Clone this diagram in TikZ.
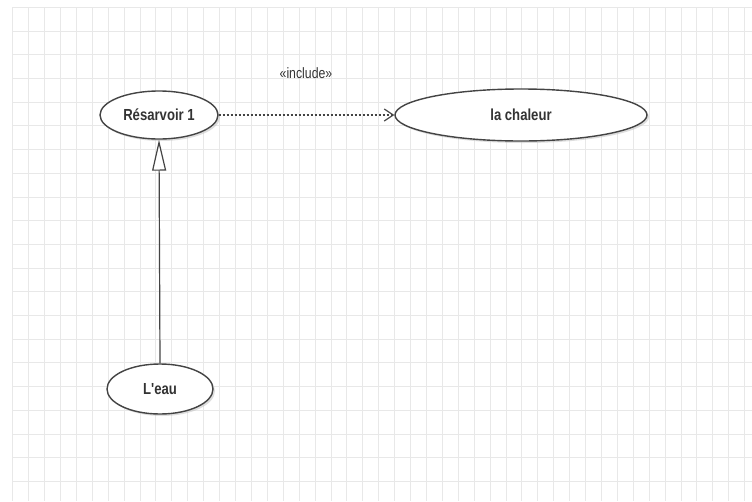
\documentclass[tikz,border=0pt]{standalone}
\usepackage{fontspec}
\setmainfont{Liberation Sans}[FakeStretch=0.82,Ligatures=TeXOff]
\usetikzlibrary{shapes.geometric,arrows.meta,shadows}
\definecolor{gridc}{HTML}{E8E8E8}
\definecolor{linec}{HTML}{444444}
\definecolor{txtc}{HTML}{333333}
\tikzset{
  usecase/.style={ellipse, draw=linec, line width=1.4pt, fill=white, inner sep=0pt,
    text=txtc, font=\fontsize{16}{18}\selectfont\bfseries,
    drop shadow={shadow xshift=2pt, shadow yshift=-2pt, fill=black!25, opacity=0.5}},
  incl/.style={draw=linec, line width=1.3pt, dash pattern=on 2pt off 2pt,
    -{Straight Barb[length=9pt,width=12pt,line width=1.2pt,sep=0pt]}},
  gen/.style={draw=linec, line width=1.2pt,
    -{Triangle[open,length=31pt,width=14pt,line width=1.2pt,fill=white]}},
  lbl/.style={text=txtc, font=\fontsize{15}{17}\selectfont}
}
\begin{document}
\begin{tikzpicture}[x=1pt,y=-1pt]
\useasboundingbox (0,0) rectangle (752,501);
\fill[white] (0,0) rectangle (752,501);
% grid
\foreach \i in {0,...,46} {
  \draw[gridc, line width=0.8pt] ({12.7+15.91*\i},7.3) -- ({12.7+15.91*\i},501);
}
\foreach \j in {0,...,21} {
  \draw[gridc, line width=0.8pt] (12.7,{7.3+23.7*\j}) -- (752,{7.3+23.7*\j});
}
% use cases
\node[usecase, minimum width=118pt, minimum height=48pt] (res) at (159,115) {Résarvoir 1};
\node[usecase, minimum width=252pt, minimum height=52pt] (chal) at (521,115) {la chaleur};
\node[usecase, minimum width=106pt, minimum height=50pt] (eau) at (160,389) {L'eau};
% connectors
\draw[incl] (res.east) -- (chal.west);
\node[lbl] (inc) at (306,73) {«include»};
\draw[gen] (eau.north) -- (res.south);
\end{tikzpicture}
\end{document}
